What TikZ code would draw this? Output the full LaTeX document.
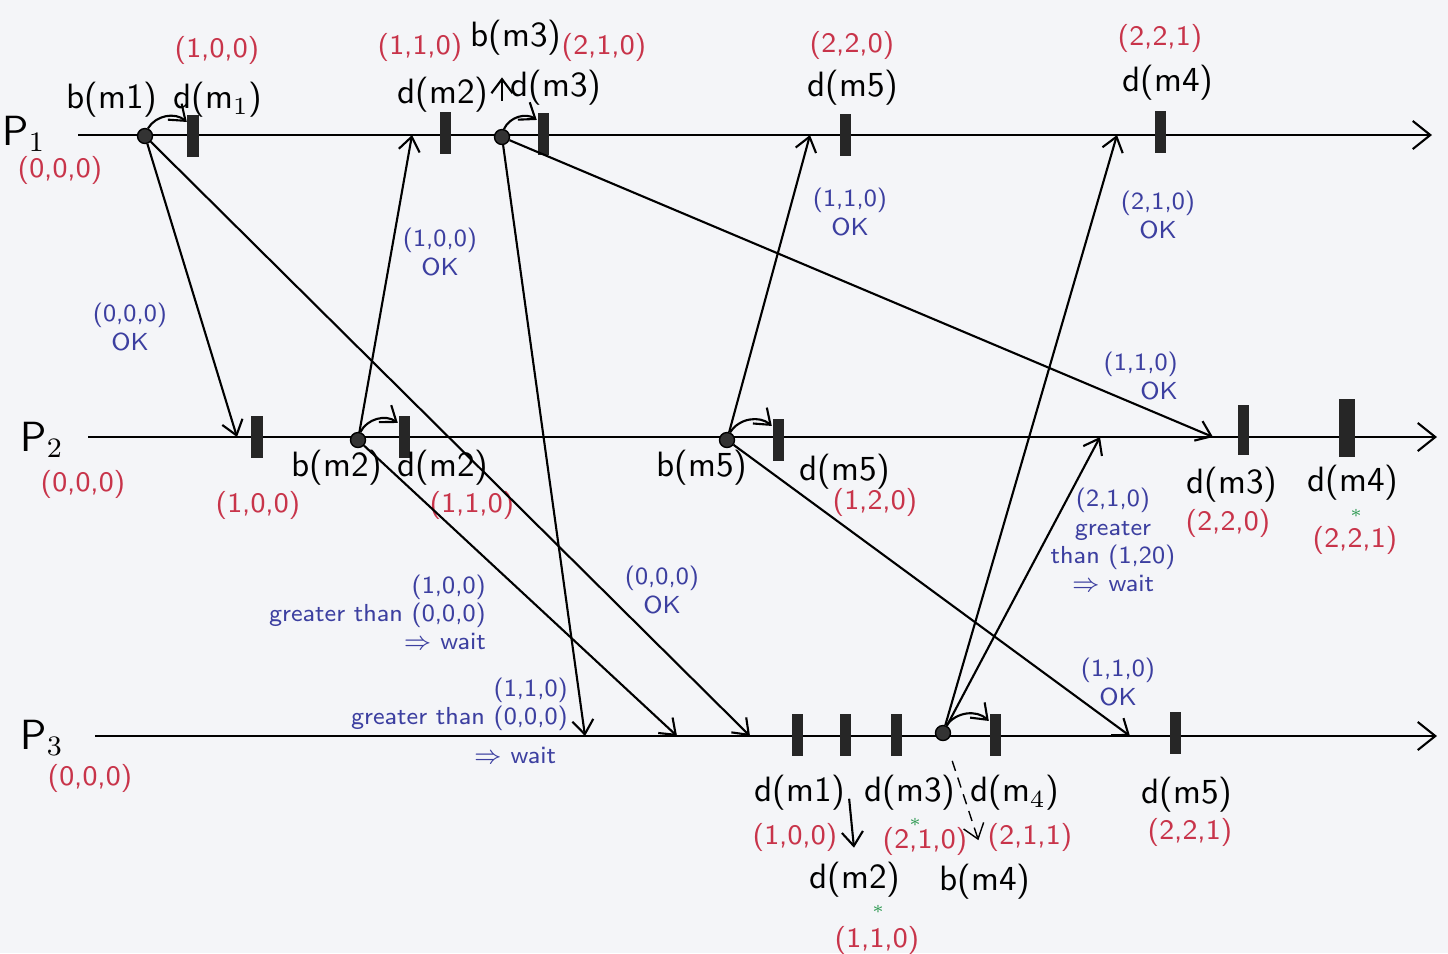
\documentclass[tikz,border=0pt]{standalone}
\usepackage{xcolor}
\usepackage{tikz}
\usetikzlibrary{positioning, arrows.meta, calc}
\definecolor{paper}{HTML}{F4F5F8}
\definecolor{clockred}{HTML}{C8344A}
\definecolor{noteblue}{HTML}{3C3FA0}
\definecolor{stargreen}{HTML}{2E9A52}

\begin{document}
\begin{tikzpicture}[x=0.01cm, y=-0.01cm, font=\sffamily,
    line/.style={line width=0.6pt, -{Straight Barb[length=5pt, width=8pt]}},
    msg/.style={line width=0.6pt, -{Straight Barb[length=4pt, width=6pt]}},
    evbar/.style={fill=black!85, minimum width=0.11cm, minimum height=0.42cm, inner sep=0pt},
    evdot/.style={circle, draw, fill=black!80, minimum size=0.15cm, inner sep=0pt},
    proc/.style={font=\sffamily\large, inner sep=1pt},
    evlbl/.style={font=\sffamily\normalsize, inner sep=1pt},
    vclock/.style={font=\sffamily\footnotesize, text=clockred, inner sep=1pt},
    note/.style={font=\sffamily\scriptsize, text=noteblue, align=center, inner sep=1pt},
    star/.style={font=\tiny, text=stargreen, inner sep=0pt}]
    \fill[paper] (0,0) rectangle (1448,953);
    \useasboundingbox (0,0) rectangle (1448,953);

    \coordinate (s1) at (78,135);
    \coordinate (e1) at (1432,135);
    \coordinate (s2) at (88,437);
    \coordinate (e2) at (1437,437);
    \coordinate (s3) at (95,736);
    \coordinate (e3) at (1437,736);
    \draw[line] (s1) -- (e1);
    \draw[line] (s2) -- (e2);
    \draw[line] (s3) -- (e3);

    \node[proc] (lp1) at (24,134) {P$_1$};
    \node[vclock] (vp1) at (60,170) {(0,0,0)};
    \node[proc] (lp2) at (42,440) {P$_2$};
    \node[vclock] (vp2) at (83,484) {(0,0,0)};
    \node[proc] (lp3) at (42,738) {P$_3$};
    \node[vclock] (vp3) at (90,778) {(0,0,0)};

    \node[evdot] (b1) at (145,136) {};
    \node[evbar] (d11) at (193,136) {};
    \node[evbar] (d12) at (445,133) {};
    \node[evdot] (b3) at (502,137) {};
    \node[evbar] (d13) at (543,134) {};
    \node[evbar] (d15) at (845,135) {};
    \node[evbar] (d14) at (1160,132) {};

    \node[evlbl] (lb1) at (112,100) {b(m1)};
    \node[evlbl] (ld11) at (218,100) {d(m$_1$)};
    \node[vclock] (vd11) at (217,50) {(1,0,0)};
    \node[evlbl] (ld12) at (443,95) {d(m2)};
    \node[vclock] (vd12) at (420,47) {(1,1,0)};
    \node[evlbl] (lb3) at (516,38) {b(m3)};
    \node[evlbl] (ld13) at (556,88) {d(m3)};
    \node[vclock] (vd13) at (604,47) {(2,1,0)};
    \node[evlbl] (ld15) at (853,88) {d(m5)};
    \node[vclock] (vd15) at (852,45) {(2,2,0)};
    \node[evlbl] (ld14) at (1168,83) {d(m4)};
    \node[vclock] (vd14) at (1160,38) {(2,2,1)};

    \node[evbar] (d21) at (257,437) {};
    \node[evdot] (b2) at (358,440) {};
    \node[evbar] (d22) at (404,437) {};
    \node[evdot] (b5) at (727,440) {};
    \node[evbar] (d25) at (778,440) {};
    \node[evbar, minimum height=0.5cm] (d23) at (1243,430) {};
    \node[evbar, minimum height=0.58cm, minimum width=0.16cm] (d24) at (1347,428) {};

    \node[vclock] (vd21) at (258,505) {(1,0,0)};
    \node[evlbl] (lb2) at (337,468) {b(m2)};
    \node[evlbl] (ld22) at (443,468) {d(m2)};
    \node[vclock] (vd22) at (472,505) {(1,1,0)};
    \node[evlbl] (lb5) at (702,468) {b(m5)};
    \node[evlbl] (ld25) at (845,472) {d(m5)};
    \node[vclock] (vd25) at (875,502) {(1,2,0)};
    \node[evlbl] (ld23) at (1232,485) {d(m3)};
    \node[vclock] (vd23) at (1228,523) {(2,2,0)};
    \node[evlbl] (ld24) at (1353,483) {d(m4)};
    \node[star] (st24) at (1356,513) {$\ast$};
    \node[vclock] (vd24) at (1355,540) {(2,2,1)};

    \node[evbar] (d31) at (797,735) {};
    \node[evbar] (d32) at (845,735) {};
    \node[evbar] (d33) at (896,735) {};
    \node[evdot] (b4) at (943,733) {};
    \node[evbar] (d34) at (995,735) {};
    \node[evbar] (d35) at (1175,733) {};

    \node[evlbl] (ld31) at (800,793) {d(m1)};
    \node[vclock] (vd31) at (795,837) {(1,0,0)};
    \node[evlbl] (ld32) at (855,880) {d(m2)};
    \node[star] (st32) at (878,909) {$\ast$};
    \node[vclock] (vd32) at (877,940) {(1,1,0)};
    \node[evlbl] (ld33) at (910,793) {d(m3)};
    \node[star] (st33) at (915,822) {$\ast$};
    \node[vclock] (vd33) at (925,841) {(2,1,0)};
    \node[evlbl] (ld34) at (1015,793) {d(m$_4$)};
    \node[vclock] (vd34) at (1030,837) {(2,1,1)};
    \node[evlbl] (lb4) at (985,882) {b(m4)};
    \node[evlbl] (ld35) at (1187,795) {d(m5)};
    \node[vclock] (vd35) at (1190,832) {(2,2,1)};

    \coordinate (a21) at (237,437);
    \coordinate (a31) at (750,736);
    \coordinate (a12) at (412,135);
    \coordinate (a32) at (677,736);
    \coordinate (a23) at (1213,437);
    \coordinate (a33) at (585,736);
    \coordinate (a14) at (1117,135);
    \coordinate (a24) at (1100,437);
    \coordinate (a15) at (810,135);
    \coordinate (a35) at (1130,736);

    \draw[msg] (b1) -- (a21);
    \draw[msg] (b1) -- (a31);
    \draw[msg] (b2) -- (a12);
    \draw[msg] (b2) -- (a32);
    \draw[msg] (b3) -- (a23);
    \draw[msg] (b3) -- (a33);
    \draw[msg] (b4) -- (a14);
    \draw[msg] (b4) -- (a24);
    \draw[msg] (b5) -- (a15);
    \draw[msg] (b5) -- (a35);

    \draw[msg] (b1) to[bend left=50] ([yshift=4pt]d11.west);
    \draw[msg] (b3) to[bend left=50] ([yshift=4pt]d13.west);
    \draw[msg] (b2) to[bend left=50] ([yshift=4pt]d22.west);
    \draw[msg] (b5) to[bend left=50] ([yshift=4pt]d25.west);
    \draw[msg] (b4) to[bend left=50] ([yshift=4pt]d34.west);

    \draw[msg, shorten <=8pt, shorten >=5pt] (b3.north) -- (b3 |- lb3.south);
    \draw[msg, shorten <=12pt, shorten >=3pt] (d32.south) -- (ld32.north);
    \draw[msg, densely dashed, line width=0.4pt, shorten <=6pt, shorten >=6pt] (b4) -- (lb4.north);

    \node[note] (n21) at (130,327) {(0,0,0)\\OK};
    \node[note] (n12) at (440,252) {(1,0,0)\\OK};
    \node[note] (n15) at (850,212) {(1,1,0)\\OK};
    \node[note] (n14) at (1158,215) {(2,1,0)\\OK};
    \node[note, align=right, anchor=east] (n23) at (1182,376) {(1,1,0)\\OK};
    \node[note] (n24) at (1113,540) {(2,1,0)\\greater\\than (1,20)\\$\Rightarrow$ wait};
    \node[note, align=right, anchor=east] (n32) at (490,612) {(1,0,0)\\greater than (0,0,0)\\$\Rightarrow$ wait};
    \node[note] (n31) at (662,590) {(0,0,0)\\OK};
    \node[note, align=right, anchor=east] (n33) at (572,704) {(1,1,0)\\greater than (0,0,0)};
    \node[note] (n33w) at (515,755) {$\Rightarrow$ wait};
    \node[note] (n35) at (1118,682) {(1,1,0)\\OK};
\end{tikzpicture}
\end{document}
